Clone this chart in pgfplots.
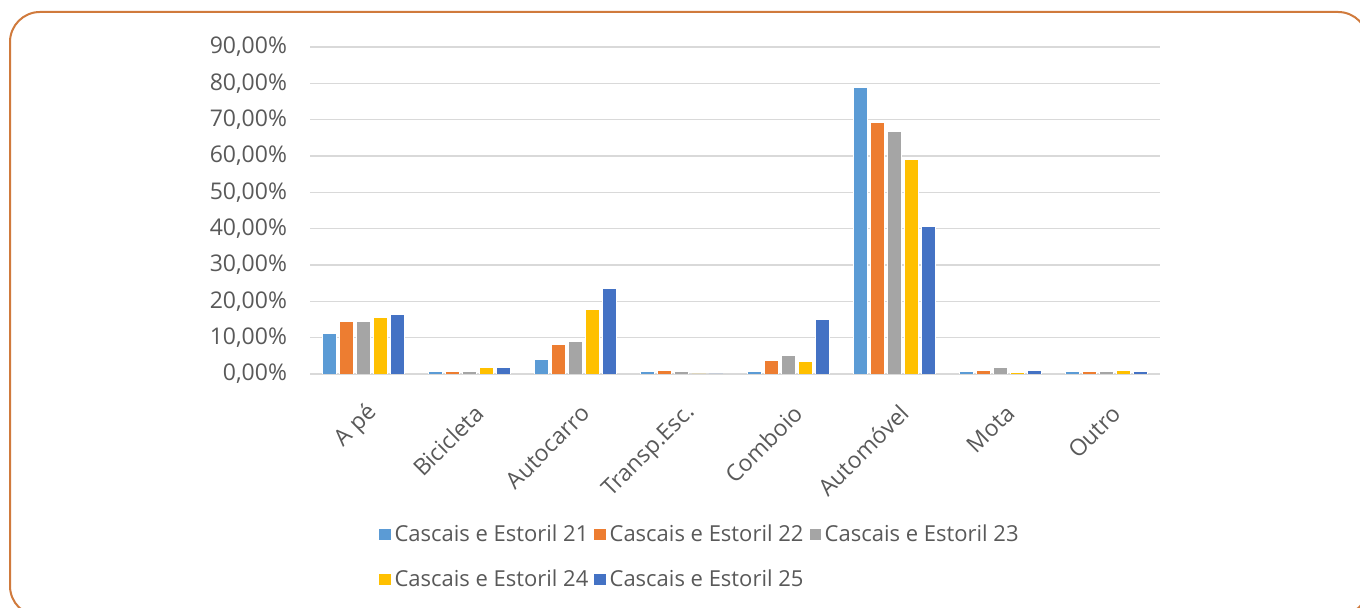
\documentclass[border=0pt]{standalone}
\usepackage{pgfplots}
\pgfplotsset{compat=1.18}
\usepackage{fontspec}
\setmainfont{Open Sans}
\definecolor{c21}{HTML}{5B9BD5}
\definecolor{c22}{HTML}{ED7D31}
\definecolor{c23}{HTML}{A5A5A5}
\definecolor{c24}{HTML}{FFC000}
\definecolor{c25}{HTML}{4472C4}
\definecolor{txt}{HTML}{595959}
\definecolor{grd}{HTML}{D9D9D9}
\definecolor{frame}{HTML}{D07A3C}
\begin{document}
\begin{tikzpicture}
\useasboundingbox (0,0) rectangle (680pt,304pt);
\draw[frame, line width=1pt, rounded corners=15pt] (5pt,-4pt) rectangle (684pt,298pt);
\begin{axis}[
  at={(155pt,117pt)}, anchor=south west,
  scale only axis, width=425pt, height=163.5pt,
  ybar=1.5pt, bar width=7pt,
  xmin=-0.5, xmax=7.5, ymin=0, ymax=90,
  xtick=data,
  xticklabels={A pé,Bicicleta,Autocarro,Transp.Esc.,Comboio,Automóvel,Mota,Outro},
  ytick={0,10,...,90},
  yticklabel={\pgfmathprintnumber[fixed,fixed zerofill,precision=2,use comma]{\tick}\%},
  /pgf/number format/assume math mode=true,
  font=\fontsize{11.5pt}{13pt}\selectfont,
  tick label style={text=txt},
  yticklabel style={xshift=-8pt},
  xticklabel style={rotate=45, anchor=east, yshift=-16pt, xshift=-5.5pt},
  ymajorgrids, grid style={grd, line width=0.75pt},
  axis line style={draw=none},
  axis x line*=bottom, axis y line*=left,
  major tick length=0pt,
  every axis plot/.append style={draw=white, line width=0.4pt},
  legend columns=3,
  legend style={at={(0.074,-0.435)}, anchor=north west, draw=none,
    font=\fontsize{11pt}{13pt}\selectfont, text=txt,
    /tikz/every even column/.append style={column sep=1pt},
    /tikz/every odd column/.append style={column sep=0pt},
    row sep=8.5pt},
  legend cell align=left,
  legend image code/.code={\fill[#1,draw=none] (0pt,-2.8pt) rectangle (5.6pt,2.8pt);},
]
\draw[grd, line width=0.75pt] (axis cs:-0.5,0) -- (axis cs:7.5,0);
\addplot[fill=c21] coordinates {(0,11.2)(1,0.8)(2,4.1)(3,0.8)(4,0.7)(5,78.8)(6,0.7)(7,0.7)};
\addplot[fill=c22] coordinates {(0,14.4)(1,0.8)(2,8.1)(3,1.0)(4,3.7)(5,69.2)(6,1.0)(7,0.7)};
\addplot[fill=c23] coordinates {(0,14.4)(1,0.8)(2,8.9)(3,0.7)(4,5.2)(5,66.7)(6,1.8)(7,0.7)};
\addplot[fill=c24] coordinates {(0,15.5)(1,1.8)(2,17.7)(3,0)(4,3.4)(5,59.0)(6,0.5)(7,1.0)};
\addplot[fill=c25] coordinates {(0,16.3)(1,1.8)(2,23.5)(3,0)(4,15.1)(5,40.7)(6,1.0)(7,0.7)};
\legend{Cascais e Estoril 21,Cascais e Estoril 22,Cascais e Estoril 23,Cascais e Estoril 24,Cascais e Estoril 25}
\end{axis}
\end{tikzpicture}
\end{document}
